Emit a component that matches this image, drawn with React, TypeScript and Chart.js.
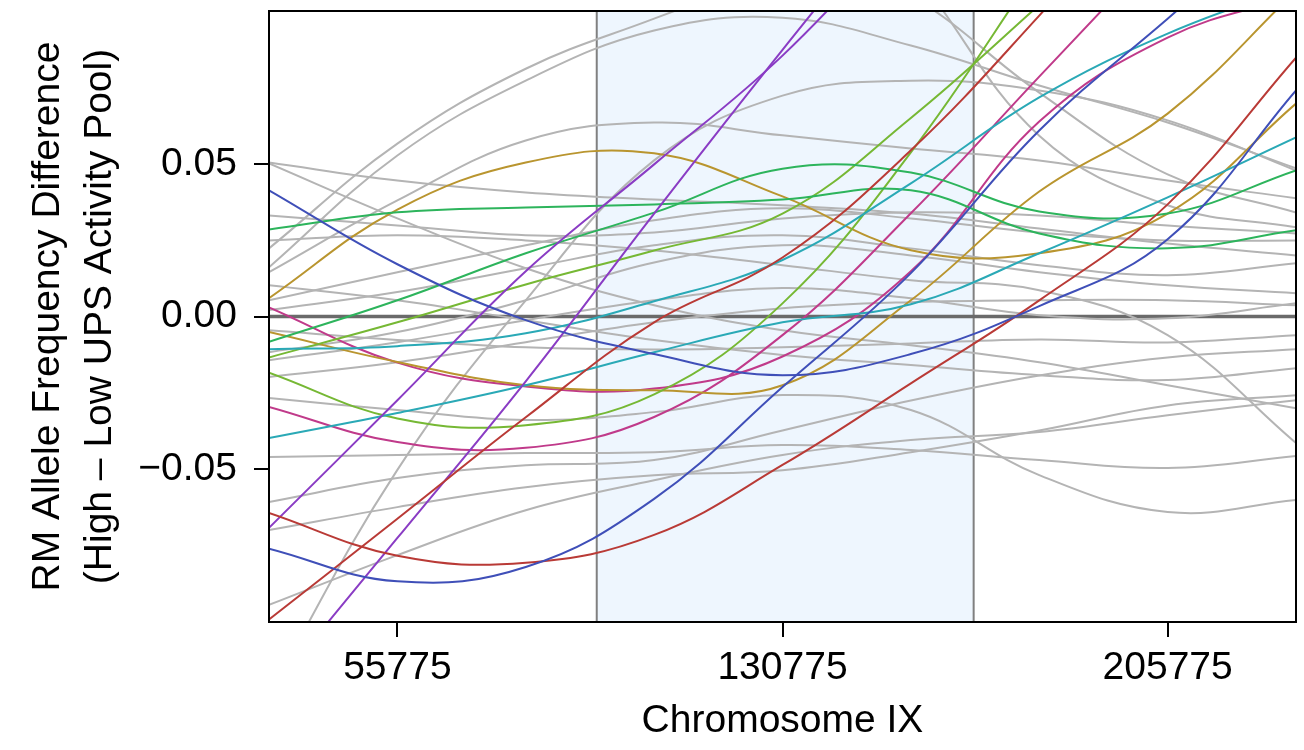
import React, { useEffect, useRef } from 'react';
import { Chart, registerables } from 'chart.js';

Chart.register(...registerables);

// Genomic positions (bp) at which the smoothed curves were sampled
const positions = [30775, 55775, 80775, 105775, 130775, 155775, 180775, 205775, 230775];
const xTickValues = [55775, 130775, 205775];
const yTickValues = [-0.05, 0, 0.05];
const xMin = 30775;
const xMax = 230775;
const yMin = -0.1;
const yMax = 0.1;
const regionStart = 94600;
const regionEnd = 168000;

const xTitle = 'Chromosome IX';
const yTitle = ['RM Allele Frequency Difference', '(High \u2013 Low UPS Activity Pool)'];

// Highlighted (coloured) traces
const blue1 = [0.0413, 0.0171, -0.0012, -0.0123, -0.0192, -0.0123, 0.0034, 0.0253, 0.074];
const blue2 = [-0.076, -0.0867, -0.082, -0.0597, -0.0231, 0.0142, 0.0609, 0.0975, 0.1337];
const red1 = [-0.0643, -0.0783, -0.0806, -0.0715, -0.0486, -0.0219, 0.0053, 0.0367, 0.0847];
const red2 = [-0.0992, -0.0662, -0.033, -0.0019, 0.0193, 0.0544, 0.0985, 0.146, null];
const purple1 = [-0.0692, -0.0274, 0.0148, 0.0498, 0.0854, 0.1295, null, null, null];
const purple2 = [-0.1235, -0.0725, -0.0212, 0.0337, 0.0873, 0.139, null, null, null];
const cyan1 = [-0.0107, -0.0097, -0.0055, 0.005, 0.0185, 0.0436, 0.0717, 0.0926, 0.1083];
const cyan2 = [-0.0398, -0.0316, -0.0225, -0.0117, -0.0019, 0.004, 0.0207, 0.039, 0.0586];
const green1 = [0.0285, 0.0341, 0.0357, 0.0367, 0.0383, 0.0413, 0.0272, 0.0223, 0.0282];
const green2 = [-0.0083, 0.0053, 0.0207, 0.034, 0.0484, 0.0471, 0.0344, 0.0337, 0.0478];
const lime1 = [-0.0134, -0.0019, 0.0105, 0.0216, 0.0337, 0.065, 0.102, 0.14, null];
const lime2 = [-0.0184, -0.0334, -0.0356, -0.0255, 0.0043, 0.0537, 0.1148, null, null];
const gold1 = [0.006, 0.035, 0.0504, 0.0534, 0.0393, 0.0217, 0.0207, 0.0337, 0.0697];
const gold2 = [-0.0051, -0.0149, -0.0225, -0.0241, -0.0225, 0.0053, 0.0409, 0.0664, 0.1066];
const magenta1 = [0.003, -0.0151, -0.0229, -0.0236, -0.0131, 0.0148, 0.0638, 0.0913, 0.105];
const magenta2 = [-0.0296, -0.0411, -0.043, -0.0329, -0.0061, 0.0338, 0.0785, 0.123, null];

// Background (grey) traces
const grey01 = [0.0504, 0.0445, 0.0406, 0.0383, 0.0364, 0.0337, 0.0288, 0.0239, 0.02];
const grey02 = [0.0501, 0.0321, 0.0158, 0.0037, -0.0045, -0.0094, -0.015, -0.0225, -0.03];
const grey03 = [0.0161, 0.0527, 0.0772, 0.0936, 0.0978, 0.0887, 0.0756, 0.0635, 0.0485];
const grey04 = [0.0223, 0.0566, 0.0811, 0.0975, 0.1132, null, null, null, null];
const grey05 = [0.0145, 0.038, 0.0576, 0.0635, 0.0593, 0.055, 0.0511, 0.0445, 0.0387];
const grey06 = [-0.1235, -0.0502, 0.0053, 0.0511, 0.0723, 0.0772, 0.074, 0.0642, 0.0478];
const grey07 = [0.0331, 0.0298, 0.0266, 0.0275, 0.0321, 0.0341, 0.0331, 0.0298, 0.0272];
const grey08 = [0.0053, 0.0145, 0.0233, 0.0315, 0.0354, 0.0321, 0.0275, 0.0249, 0.0249];
const grey09 = [0.0021, 0.008, 0.0158, 0.0233, 0.0266, 0.0223, 0.0168, 0.0135, 0.0174];
const grey10 = [-0.0117, -0.0051, 0.0053, 0.0177, 0.0233, 0.02, 0.0145, 0.0102, 0.0076];
const grey11 = [-0.0143, -0.0084, -0.0012, 0.0053, 0.0093, 0.006, 0.0004, -0.0006, 0.0043];
const grey12 = [-0.0198, -0.015, -0.0084, -0.0019, 0.0027, 0.0047, 0.0053, 0.0053, 0.0037];
const grey13 = [-0.0045, -0.0077, -0.0101, -0.0108, -0.0101, -0.0088, -0.0075, -0.0085, -0.0061];
const grey14 = [-0.046, -0.0453, -0.0447, -0.0444, -0.0421, -0.0437, -0.047, -0.0496, -0.0457];
const grey15 = [-0.0699, -0.0624, -0.0559, -0.052, -0.0503, -0.0444, -0.0373, -0.0291, -0.0258];
const grey16 = [-0.0607, -0.0529, -0.0487, -0.047, -0.0373, -0.0275, -0.0193, -0.0134, -0.0107];
const grey17 = [-0.0944, -0.0781, -0.0634, -0.0536, -0.0453, -0.0404, -0.0378, -0.0323, -0.0274];
const grey18 = [null, null, null, 0.1524, 0.123, 0.105, 0.0733, 0.0465, 0.034];
const grey19 = [null, null, null, null, 0.1524, 0.1132, 0.0592, 0.0364, 0.0292];
const grey20 = [-0.0267, -0.0306, -0.0339, -0.0313, -0.0257, -0.0306, -0.0519, -0.064, -0.0601];
const grey21 = [0.0102, 0.0053, -0.0012, -0.0077, -0.0126, -0.0159, -0.0192, -0.0208, -0.0169];
const grey22 = [0.0249, 0.0266, 0.0249, 0.0216, 0.0168, 0.0119, 0.0086, -0.0061, -0.0414];

const BLUE = '#3F4FB8';
const RED = '#B93A36';
const PURPLE = '#8A3CC4';
const MAGENTA = '#C03A8A';
const CYAN = '#2AA9B6';
const GREEN = '#2DB45C';
const LIME = '#76B834';
const GOLD = '#B9952F';
const GREY = '#B4B4B4';

const highlighted: [(number | null)[], string][] = [
  [blue1, BLUE], [blue2, BLUE], [red1, RED], [red2, RED],
  [purple1, PURPLE], [purple2, PURPLE], [cyan1, CYAN], [cyan2, CYAN],
  [green1, GREEN], [green2, GREEN], [lime1, LIME], [lime2, LIME],
  [gold1, GOLD], [gold2, GOLD], [magenta1, MAGENTA], [magenta2, MAGENTA],
];
const greys = [grey01, grey02, grey03, grey04, grey05, grey06, grey07, grey08, grey09, grey10, grey11,
  grey12, grey13, grey14, grey15, grey16, grey17, grey18, grey19, grey20, grey21, grey22];

const FONT = '"Liberation Sans", Arial, Helvetica, sans-serif';

const toPoints = (vals: (number | null)[]) => vals.map((v, i) => ({ x: positions[i], y: v }));

const backgroundPlugin = {
  id: 'regionAndFrame',
  beforeDatasetsDraw(chart: any) {
    const { ctx, chartArea: a, scales } = chart;
    const x0 = scales.x.getPixelForValue(regionStart);
    const x1 = scales.x.getPixelForValue(regionEnd);
    ctx.save();
    ctx.fillStyle = '#EEF6FE';
    ctx.fillRect(x0, a.top, x1 - x0, a.bottom - a.top);
    ctx.strokeStyle = '#808080';
    ctx.lineWidth = 2;
    ctx.beginPath();
    ctx.moveTo(x0, a.top); ctx.lineTo(x0, a.bottom);
    ctx.moveTo(x1, a.top); ctx.lineTo(x1, a.bottom);
    ctx.stroke();
    const y0 = scales.y.getPixelForValue(0);
    ctx.strokeStyle = '#6A6A6A';
    ctx.lineWidth = 3.5;
    ctx.beginPath();
    ctx.moveTo(a.left, y0); ctx.lineTo(a.right, y0);
    ctx.stroke();
    ctx.restore();
  },
  afterDraw(chart: any) {
    const { ctx, chartArea: a } = chart;
    ctx.save();
    ctx.strokeStyle = '#000';
    ctx.lineWidth = 2;
    ctx.strokeRect(a.left, a.top, a.right - a.left, a.bottom - a.top);
    ctx.restore();
  },
};

export default function App() {
  const canvasRef = useRef<HTMLCanvasElement | null>(null);

  useEffect(() => {
    if (!canvasRef.current) return;
    const datasets: any[] = [];
    highlighted.forEach(([vals, color]) => {
      datasets.push({ data: toPoints(vals), borderColor: color, borderWidth: 2, order: 0 });
    });
    greys.forEach((vals) => {
      datasets.push({ data: toPoints(vals as (number | null)[]), borderColor: GREY, borderWidth: 2, order: 1 });
    });

    const chart = new Chart(canvasRef.current, {
      type: 'line',
      data: { datasets },
      plugins: [backgroundPlugin],
      options: {
        animation: false,
        responsive: true,
        maintainAspectRatio: false,
        layout: { padding: { top: 11, right: 8, left: 0, bottom: 0 } },
        plugins: { legend: { display: false }, tooltip: { enabled: false } },
        elements: {
          point: { radius: 0, hoverRadius: 0 },
          line: { tension: 0.4, borderWidth: 2, fill: false },
        },
        scales: {
          x: {
            type: 'linear',
            min: xMin,
            max: xMax,
            afterBuildTicks: (s: any) => { s.ticks = xTickValues.map((v) => ({ value: v })); },
            afterFit: (s: any) => { s.height = 128; s.paddingLeft = 0; s.paddingRight = 0; },
            grid: { drawOnChartArea: false, drawTicks: true, tickLength: 15, color: '#000', lineWidth: 2 },
            border: { display: true, color: '#000', width: 2 },
            ticks: {
              color: '#000',
              font: { family: FONT, size: 39 },
              padding: 8,
              maxRotation: 0,
              autoSkip: false,
              callback: (v: any) => String(v),
            },
            title: {
              display: true,
              text: xTitle,
              color: '#000',
              font: { family: FONT, size: 39 },
              padding: { top: 0, bottom: 5 },
            },
          },
          y: {
            type: 'linear',
            min: yMin,
            max: yMax,
            afterBuildTicks: (s: any) => { s.ticks = yTickValues.map((v) => ({ value: v })); },
            afterFit: (s: any) => { s.width = 269; s.paddingTop = 0; s.paddingBottom = 0; },
            grid: { drawOnChartArea: false, drawTicks: true, tickLength: 15, color: '#000', lineWidth: 2 },
            border: { display: true, color: '#000', width: 2 },
            ticks: {
              color: '#000',
              font: { family: FONT, size: 39 },
              padding: 17,
              autoSkip: false,
              callback: (v: any) => {
                const n = Number(v);
                if (Math.abs(n) < 1e-9) return '0.00';
                return n < 0 ? '\u2212' + Math.abs(n).toFixed(2) : n.toFixed(2);
              },
            },
            title: {
              display: true,
              text: yTitle,
              color: '#000',
              font: { family: FONT, size: 39, lineHeight: 1.333 },
              padding: { top: 22, bottom: 0 },
            },
          },
        },
      },
    });
    return () => chart.destroy();
  }, []);

  return (
    <div style={{ position: 'fixed', left: 0, top: 0, width: 1304, height: 750, background: '#fff' }}>
      <canvas ref={canvasRef} />
    </div>
  );
}
